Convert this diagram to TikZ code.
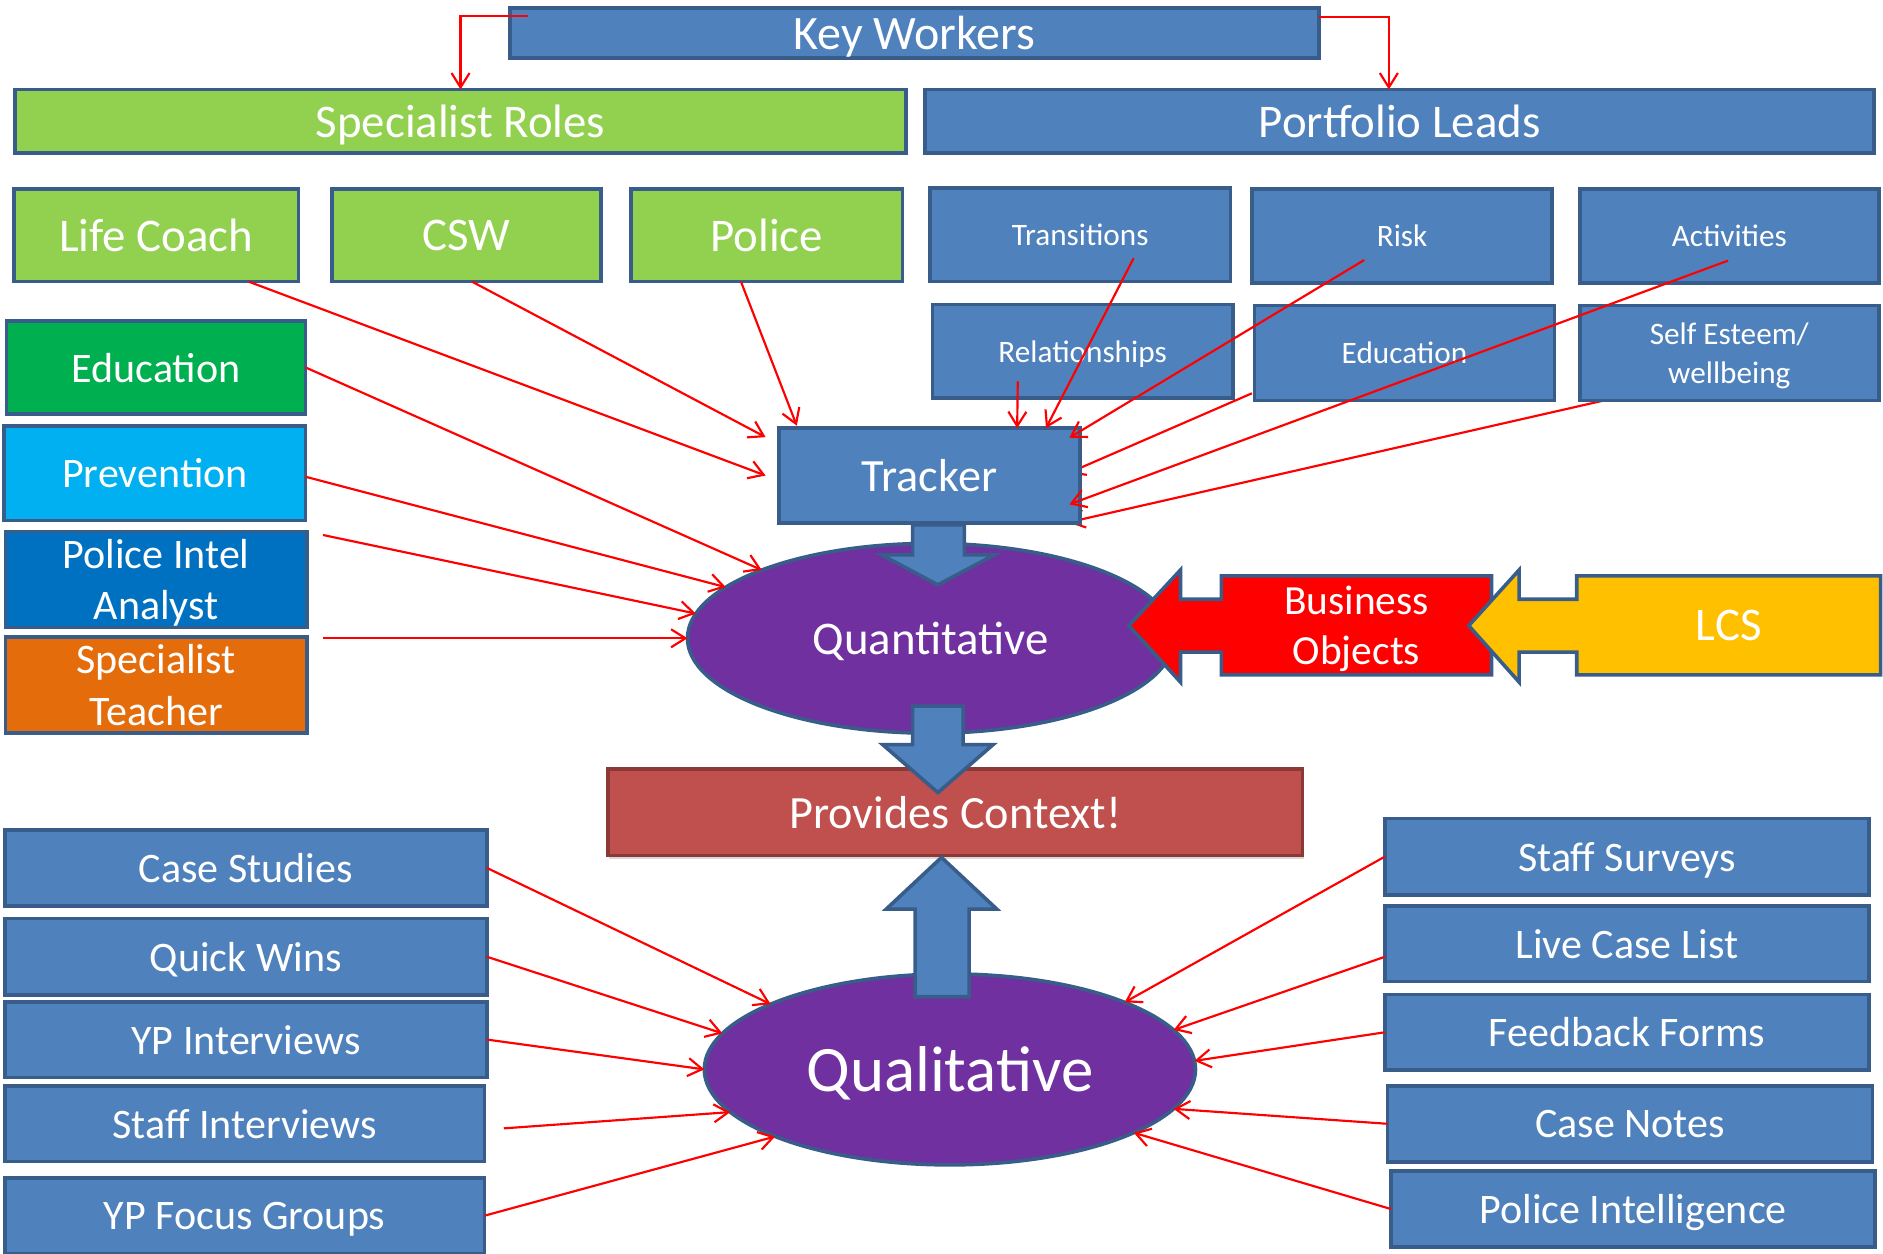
\documentclass[tikz,border=0pt]{standalone}
\usepackage{fontspec}
\setmainfont{Carlito}
\usetikzlibrary{arrows.meta,shapes.geometric,shadows}
\definecolor{boxblue}{HTML}{4F81BD}
\definecolor{edgeblue}{HTML}{385D8A}
\definecolor{limegreen}{HTML}{92D050}
\definecolor{edugreen}{HTML}{00B050}
\definecolor{skyblue}{HTML}{00B0F0}
\definecolor{deepblue}{HTML}{0070C0}
\definecolor{teachorange}{HTML}{E46C0A}
\definecolor{purp}{HTML}{7030A0}
\definecolor{lcsgold}{HTML}{FFC000}
\definecolor{ctxred}{HTML}{C0504D}
\definecolor{ctxedge}{HTML}{8C3836}
\pgfdeclarelayer{background}
\pgfsetlayers{background,main}
% last line of a stacked label without descender depth
\newcommand{\nodepth}[1]{\raisebox{0pt}[\height][0pt]{#1}}
\begin{document}
\begin{tikzpicture}[x=1pt,y=-1pt,
  box/.style={draw=edgeblue, line width=3pt, inner sep=0pt, outer sep=0pt, text=white, align=center},
  bluebox/.style={box, fill=boxblue},
  greenbox/.style={box, fill=limegreen},
  txtbig/.style={font=\fontsize{39}{47}\selectfont, text depth=0pt},
  txtmid/.style={font=\fontsize{35}{43}\selectfont, text depth=0pt},
  txtsmall/.style={font=\fontsize{26}{32}\selectfont, text depth=0pt},
  stackmid/.style={font=\fontsize{35}{43}\selectfont},
  stacksmall/.style={font=\fontsize{26}{32}\selectfont},
  conn/.style={draw=red, line width=1.8pt, -{Straight Barb[length=12pt,width=15pt]}},
  blockarrow/.style={fill=boxblue, draw=edgeblue, line width=3pt, line join=miter},
  oval/.style={ellipse, draw=edgeblue, fill=purp, line width=3pt, inner sep=0pt, outer sep=0pt, text=white, text depth=0pt}
]
\useasboundingbox (0,0) rectangle (1568,1044);

% top rows
\node[bluebox, font=\fontsize{40}{48}\selectfont, text depth=0pt, minimum width=674pt, minimum height=42pt] (kw) at (761.5,27.5) {Key Workers};
\node[greenbox, txtbig, minimum width=742pt, minimum height=53pt] (spec) at (383.5,101) {Specialist Roles};
\node[bluebox, txtbig, minimum width=790pt, minimum height=53pt] (port) at (1165.5,101) {Portfolio Leads};

\node[greenbox, txtbig, minimum width=237pt, minimum height=77pt] (lc) at (130,196) {Life Coach};
\node[greenbox, txtbig, minimum width=224pt, minimum height=77pt] (csw) at (388.5,196) {CSW};
\node[greenbox, txtbig, minimum width=226pt, minimum height=77pt] (pol) at (638.5,196) {Police};

\node[bluebox, txtsmall, minimum width=250pt, minimum height=78pt] (tra) at (899.5,195.5) {Transitions};
\node[bluebox, txtsmall, minimum width=250pt, minimum height=78pt] (risk) at (1167.5,196.5) {Risk};
\node[bluebox, txtsmall, minimum width=249pt, minimum height=78pt] (act) at (1440,196.5) {Activities};
\node[bluebox, txtsmall, minimum width=250pt, minimum height=78pt] (rel) at (901.5,292.5) {Relationships};
\node[bluebox, txtsmall, minimum width=250pt, minimum height=79pt] (edp) at (1169.5,294) {Education};
\node[bluebox, stacksmall, minimum width=249pt, minimum height=79pt] (se) at (1440,294) {Self Esteem/\\\nodepth{wellbeing}};

% left column
\node[box, fill=edugreen, txtmid, minimum width=249pt, minimum height=77pt] (edu) at (130,306) {Education};
\node[box, fill=skyblue, txtmid, minimum width=251pt, minimum height=79pt] (prev) at (129,394) {Prevention};
\node[box, fill=deepblue, stackmid, minimum width=251pt, minimum height=80pt] (pia) at (130,482.5) {Police Intel\\\nodepth{Analyst}};
\node[box, fill=teachorange, stackmid, minimum width=251pt, minimum height=80pt] (st) at (130,570.5) {Specialist\\Teacher};

% centre
\node[oval, font=\fontsize{39}{47}\selectfont, minimum width=405pt, minimum height=158pt] (quant) at (775,531.5) {Quantitative};
\node[oval, font=\fontsize{54}{64}\selectfont, minimum width=409pt, minimum height=159pt] (qual) at (791,890.5) {Qualitative};
\node[box, fill=ctxred, draw=ctxedge, font=\fontsize{38.5}{46}\selectfont, minimum width=578pt, minimum height=72pt,
  drop shadow={shadow xshift=1pt, shadow yshift=-3pt, opacity=0.3}] (pc) at (795.5,676.5) {Provides Context!};

% block arrows
\draw[blockarrow] (760,437) -- (803,437) -- (803,462) -- (828,462) -- (781,487) -- (734,462) -- (760,462) -- cycle;
\draw[blockarrow] (760,588) -- (802,588) -- (802,620) -- (827,620) -- (781,660) -- (735,620) -- (760,620) -- cycle;
\draw[blockarrow] (762,830) -- (807,830) -- (807,757) -- (830,757) -- (784,714) -- (738,757) -- (762,757) -- cycle;

\node[bluebox, font=\fontsize{38.5}{46}\selectfont, text depth=0pt, minimum width=251pt, minimum height=79pt] (tr) at (774,396) {Tracker};

% arrow callouts
\draw[fill=red, draw=edgeblue, line width=3pt, line join=miter]
  (1242,479.5) -- (1017,479.5) -- (1017,499) -- (983,499) -- (983,474.6) -- (940,521)
  -- (983,568) -- (983,543) -- (1017,543) -- (1017,562) -- (1242,562) -- cycle;
\node[text=white, align=center, font=\fontsize{34.5}{41.5}\selectfont] (bo) at (1129.5,520.75) {Business\\\nodepth{Objects}};
\draw[fill=lcsgold, draw=edgeblue, line width=3pt, line join=miter]
  (1566,479.5) -- (1313,479.5) -- (1313,499) -- (1265,499) -- (1265,474.6) -- (1223,521)
  -- (1265,568) -- (1265,543) -- (1313,543) -- (1313,562) -- (1566,562) -- cycle;
\node[text=white, font=\fontsize{39}{47}\selectfont] (lcs) at (1439.5,520.75) {LCS};

% bottom columns
\node[bluebox, txtmid, minimum width=401.5pt, minimum height=63.5pt] (cs) at (204.75,722.75) {Case Studies};
\node[bluebox, txtmid, minimum width=401.5pt, minimum height=63.5pt] (qw) at (204.75,796.7) {Quick Wins};
\node[bluebox, txtmid, minimum width=401.5pt, minimum height=63pt] (ypi) at (204.75,865.65) {YP Interviews};
\node[bluebox, txtmid, minimum width=399.5pt, minimum height=63pt] (si) at (203.75,935.6) {Staff Interviews};
\node[bluebox, txtmid, minimum width=399.5pt, minimum height=63pt] (ypf) at (203.75,1012.3) {YP Focus Groups};

\node[bluebox, txtmid, minimum width=403.4pt, minimum height=63.7pt] (ss) at (1354.8,713.35) {Staff Surveys};
\node[bluebox, txtmid, minimum width=403.4pt, minimum height=63pt] (lcl) at (1354.8,785.75) {Live Case List};
\node[bluebox, txtmid, minimum width=403.4pt, minimum height=63pt] (fb) at (1354.8,859.6) {Feedback Forms};
\node[bluebox, txtmid, minimum width=403.6pt, minimum height=63.4pt] (cn) at (1357.3,935.8) {Case Notes};
\node[bluebox, txtmid, minimum width=403.3pt, minimum height=63.5pt] (pi) at (1359.85,1006.75) {Police Intelligence};

% connectors from Key Workers
\draw[conn] ([xshift=15.5pt,yshift=-6.5pt]kw.north west) -| (spec.north);
\draw[conn] ([yshift=-8pt]kw.north east) -| ([xshift=-9pt]port.north);

% connectors into Tracker
\draw[conn] ([xshift=77pt]lc.south) -- ([xshift=-11pt]tr.west);
\draw[conn] ([xshift=4.5pt]csw.south) -- ([xshift=-11pt,yshift=32pt]tr.west);
\draw[conn] ([xshift=-21.5pt]pol.south) -- ([xshift=15pt,yshift=2pt]tr.north west);
\draw[conn] ([xshift=44.5pt,yshift=-19.5pt]tra.center) -- ([xshift=97pt]tr.north);
\draw[conn] ([xshift=-54pt,yshift=14pt]rel.south) -- ([xshift=73pt]tr.north);
\draw[conn] ([xshift=-31.5pt,yshift=-20pt]risk.center) -- ([xshift=-9pt,yshift=-8pt]tr.north east);
\draw[conn] ([xshift=-1pt,yshift=-20.5pt]act.center) -- ([xshift=-9pt,yshift=-24pt]tr.east);
\begin{pgfonlayer}{background}
\draw[conn] ([xshift=-2pt,yshift=6pt]edp.south west) -- ([xshift=-10pt,yshift=2pt]tr.east);
\draw[conn] ([xshift=20pt]se.south west) -- ([xshift=-10pt,yshift=-39pt]tr.east);
\end{pgfonlayer}

% connectors into Quantitative
\draw[conn] (edu.east) -- (quant.158);
\draw[conn] ([yshift=-3pt]prev.east) -- (quant.166);
\draw[conn] ([xshift=13.5pt,yshift=-3pt]pia.north east) -- (quant.174);
\draw[conn] ([xshift=13.5pt,yshift=-1pt]st.north east) -- (quant.west);

% connectors into Qualitative
\draw[conn] (cs.east) -- (qual.160);
\draw[conn] (qw.east) -- (qual.171);
\draw[conn] (ypi.east) -- (qual.west);
\draw[conn] ([xshift=16pt,yshift=-4pt]si.east) -- (qual.191);
\draw[conn] (ypf.east) -- (qual.201);
\draw[conn] (ss.west) -- (qual.21);
\draw[conn] ([yshift=-11pt]lcl.west) -- (qual.10);
\draw[conn] (fb.west) -- (qual.2);
\draw[conn] (cn.west) -- (qual.-10);
\draw[conn] (pi.west) -- (qual.-19);
\end{tikzpicture}
\end{document}
